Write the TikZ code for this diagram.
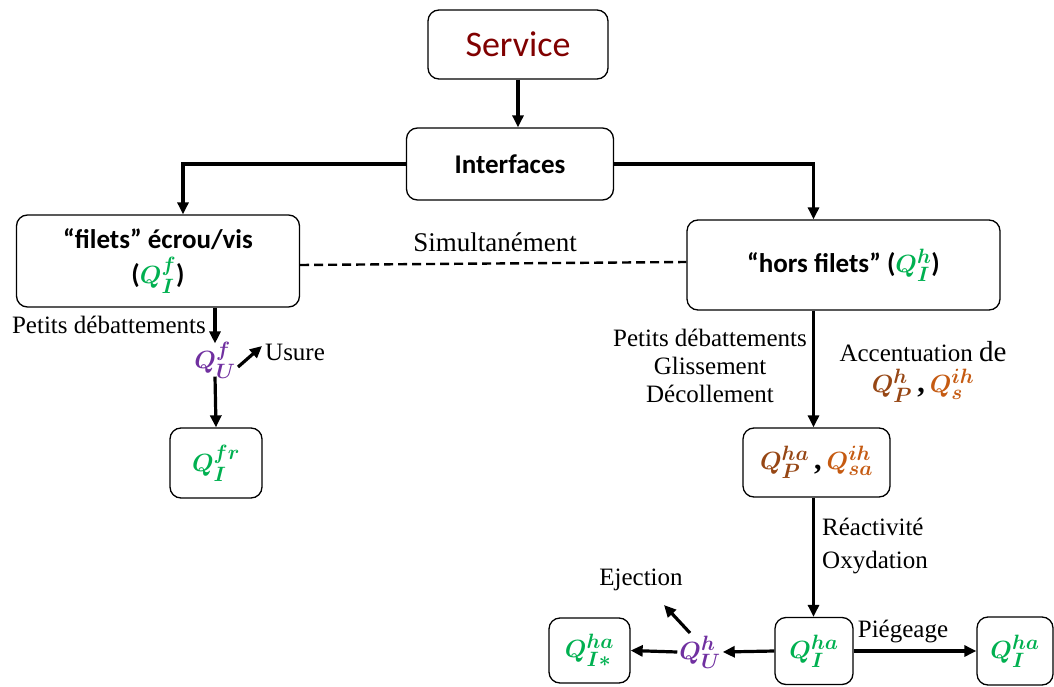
\documentclass[tikz,border=0pt]{standalone}
\usepackage{amsmath,bm}
\usepackage{fontspec}
\setmainfont{Liberation Serif}
\newfontfamily\boxfont{Carlito}
\usetikzlibrary{arrows.meta,calc}
\definecolor{qgreen}{RGB}{0,176,80}
\definecolor{qpurple}{RGB}{112,48,160}
\definecolor{qbrown}{RGB}{150,70,20}
\definecolor{qorange}{RGB}{197,90,17}
\definecolor{svred}{RGB}{128,0,0}
\newcommand\QQ[3]{\textcolor{#1}{$\bm{Q^{#2}_{#3}}$}}
\tikzset{
  box/.style={draw,line width=1.3pt,rounded corners=11pt,align=center,inner sep=0pt},
  arr/.style={line width=3.2pt,-{Triangle[length=12pt,width=11pt]}},
  lab/.style={font=\fontsize{25}{29}\selectfont,inner sep=0pt},
  qlab/.style={font=\fontsize{30}{34}\selectfont,inner sep=0pt},
  qbox/.style={box,font=\fontsize{30}{34}\selectfont},
}
\begin{document}
\begin{tikzpicture}[x=1pt,y=-1pt]
\useasboundingbox (0,0) rectangle (1054,687);
% boxes
\node[box,minimum width=180pt,minimum height=69pt,font=\boxfont\fontsize{36}{40}\selectfont,text=svred] (svc) at (518,44.5) {Service};
\node[box,minimum width=207pt,minimum height=72pt,font=\boxfont\bfseries\fontsize{27}{31}\selectfont] (ifc) at (510,164) {Interfaces};
\node[box,minimum width=283pt,minimum height=92pt,font=\boxfont\bfseries\fontsize{27}{35}\selectfont] (fil) at (158,261) {“filets” écrou/vis\\({\fontsize{29}{33}\selectfont\QQ{qgreen}{f}{I}})};
\node[box,minimum width=313pt,minimum height=90pt,font=\boxfont\bfseries\fontsize{27}{31}\selectfont] (hors) at (843.5,265) {“hors filets” ({\fontsize{29}{33}\selectfont\QQ{qgreen}{h}{I}})};
\node[qbox,minimum width=92pt,minimum height=70pt] (fr) at (216,463) {\QQ{qgreen}{fr}{I}};
\node[qbox,minimum width=147pt,minimum height=69pt] (qp) at (816.5,462.5) {\QQ{qbrown}{ha}{P}\,\textbf{,}\,\QQ{qorange}{ih}{sa}};
\node[qbox,minimum width=78pt,minimum height=67pt] (mid) at (814,651) {\QQ{qgreen}{ha}{I}};
\node[qbox,minimum width=81pt,minimum height=65pt] (star) at (589.5,650.5) {\QQ{qgreen}{ha}{I*}};
\node[qbox,minimum width=76pt,minimum height=68pt] (rgt) at (1015,651) {\QQ{qgreen}{ha}{I}};
% free quantities
\node[qlab] (uf) at (215,360) {\QQ{qpurple}{f}{U}};
\node[qlab] (uh) at (700,652) {\QQ{qpurple}{h}{U}};
% connectors
\draw[arr] (svc.south) -- (ifc.north -| svc.south);
\draw[arr] (ifc.west) -| ($(fil.north)+(25,0)$);
\coordinate (hx) at ($(hors.north -| qp.north)+(-3,0)$);
\draw[arr] (ifc.east) -| (hx);
\draw[line width=2.4pt,dash pattern=on 9pt off 5pt] ($(fil.east)+(0,4)$) -- ($(hors.west)+(0,-3)$);
\node[lab,font=\fontsize{27}{31}\selectfont] (sim) at (495,242) {Simultanément};
\draw[arr] ($(fil.south)+(57,0)$) -- ($(uf.north)+(0,2)$);
\draw[arr] ($(uf.south)+(0,-2)$) -- (fr.north);
\coordinate (usA) at (238,367);
\coordinate (usB) at (262,346);
\draw[arr] (usA) -- (usB);
\node[lab,anchor=west] (usure) at (265,352) {Usure};
\node[lab,anchor=east] (pd1) at (206,325) {Petits débattements};
\draw[arr] (hors.south -| hx) -- (qp.north -| hx);
\node[lab,align=center,font=\fontsize{25}{28}\selectfont] (pdg) at (710,366) {Petits débattements\\Glissement\\Décollement};
\node[lab,align=center] (acc) at (923,372) {Accentuation {\fontsize{29}{33}\selectfont de}\\[2pt]{\fontsize{30}{34}\selectfont\QQ{qbrown}{h}{P}\,\textbf{,}\,\QQ{qorange}{ih}{s}}};
\draw[arr] (qp.south -| hx) -- (mid.north -| hx);
\node[lab,anchor=west] (rea) at (822,527) {Réactivité};
\node[lab,anchor=west] (oxy) at (822,563) {Oxydation};
\draw[arr] (mid.west) -- ($(uh.east)+(2,0)$);
\draw[arr] ($(uh.west)+(-2,0)$) -- (star.east);
\coordinate (ejA) at (690,633);
\coordinate (ejB) at (664,605);
\draw[arr] (ejA) -- (ejB);
\node[lab] (ej) at (641,580) {Ejection};
\draw[arr] (mid.east) -- (rgt.west);
\node[lab] (pie) at (903,632) {Piégeage};
\end{tikzpicture}
\end{document}
